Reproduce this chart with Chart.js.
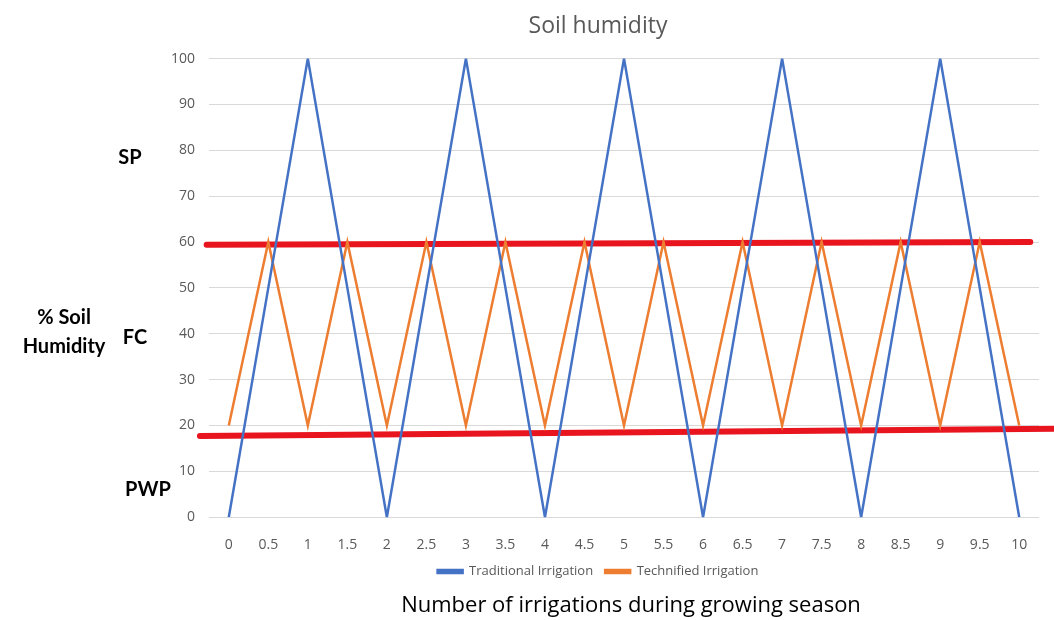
<!DOCTYPE html>
<html>
<head>
<meta charset="utf-8">
<script src="https://cdn.jsdelivr.net/npm/chart.js@4.4.0/dist/chart.umd.min.js"></script>
<style>
  html, body { margin: 0; padding: 0; background: #fff; }
  #wrap { width: 1054px; height: 620px; }
</style>
</head>
<body>
<div id="wrap"><canvas id="chart"></canvas></div>
<script>
const labels = ['0','0.5','1','1.5','2','2.5','3','3.5','4','4.5','5','5.5','6','6.5','7','7.5','8','8.5','9','9.5','10'];
const traditional = [0,50,100,50,0,50,100,50,0,50,100,50,0,50,100,50,0,50,100,50,0];
const technified = [20,60,20,60,20,60,20,60,20,60,20,60,20,60,20,60,20,60,20,60,20];
const yTicks = [0,10,20,30,40,50,60,70,80,90,100];

// hand-drawn red limits, in category-index units (x) and % (y)
const fcLimitX = [-0.56, 20.28];
const fcLimitY = [59.4, 60.0];
const pwpLimitX = [-0.73, 20.9];
const pwpLimitY = [17.7, 19.3];

// side labels at y values
const sideLabels = [
  { text: 'SP', y: 78.4, x: 130 },
  { text: 'FC', y: 39.1, x: 135 },
  { text: 'PWP', y: 6.1, x: 148 }
];

const sideText = {
  id: 'sideText',
  afterDraw(chart) {
    const ctx = chart.ctx;
    const y = chart.scales.y;
    ctx.save();
    ctx.fillStyle = '#000';
    ctx.textAlign = 'center';
    ctx.textBaseline = 'middle';
    ctx.font = 'bold 20px Lato, "Open Sans", sans-serif';
    sideLabels.forEach(l => ctx.fillText(l.text, l.x, y.getPixelForValue(l.y)));
    ctx.fillText('% Soil', 64, 318);
    ctx.fillText('Humidity', 64, 347);
    ctx.font = '22px "Open Sans", Lato, sans-serif';
    ctx.fillText('Number of irrigations during growing season', 631, 606);
    ctx.restore();
  }
};

new Chart(document.getElementById('chart'), {
  type: 'line',
  data: {
    labels,
    datasets: [
      { label: 'Traditional Irrigation', data: traditional, borderColor: '#4472C4', backgroundColor: '#4472C4', borderWidth: 2.5, pointRadius: 0, tension: 0 },
      { label: 'Technified Irrigation', data: technified, borderColor: '#ED7D31', backgroundColor: '#ED7D31', borderWidth: 2.5, pointRadius: 0, tension: 0 },
      { label: 'fc', data: fcLimitX.map((x, i) => ({ x, y: fcLimitY[i] })), xAxisID: 'xr', borderColor: '#E8141E', borderWidth: 6, borderCapStyle: 'round', pointRadius: 0, clip: false },
      { label: 'pwp', data: pwpLimitX.map((x, i) => ({ x, y: pwpLimitY[i] })), xAxisID: 'xr', borderColor: '#E8141E', borderWidth: 6, borderCapStyle: 'round', pointRadius: 0, clip: false }
    ]
  },
  options: {
    responsive: true,
    maintainAspectRatio: false,
    animation: false,
    layout: { padding: { left: 157, right: 15, top: 13, bottom: 32 } },
    plugins: {
      title: { display: true, text: 'Soil humidity', color: '#595959', font: { family: 'Open Sans', size: 23, weight: 'normal' }, padding: { top: 0, bottom: 18 } },
      legend: {
        position: 'bottom',
        labels: {
          color: '#595959', font: { family: 'Open Sans', size: 13 },
          boxWidth: 25, boxHeight: 3, padding: 12,
          filter: item => item.datasetIndex < 2
        }
      },
      tooltip: { enabled: false }
    },
    scales: {
      x: {
        offset: true,
        grid: { display: false, drawTicks: false },
        border: { display: false },
        afterFit: s => { s.height -= 19; },
        ticks: { color: '#595959', font: { family: 'Open Sans', size: 14 }, padding: 19, maxRotation: 0, autoSkip: false }
      },
      xr: { type: 'linear', display: false, min: -0.5, max: 20.5 },
      y: {
        min: 0, max: 100,
        afterBuildTicks: s => { s.ticks = yTicks.map(v => ({ value: v })); },
        grid: { color: '#D9D9D9', drawTicks: false },
        border: { display: false },
        ticks: { color: '#595959', font: { family: 'Open Sans', size: 14 }, padding: 14 }
      }
    }
  },
  plugins: [sideText]
});
</script>
</body>
</html>
